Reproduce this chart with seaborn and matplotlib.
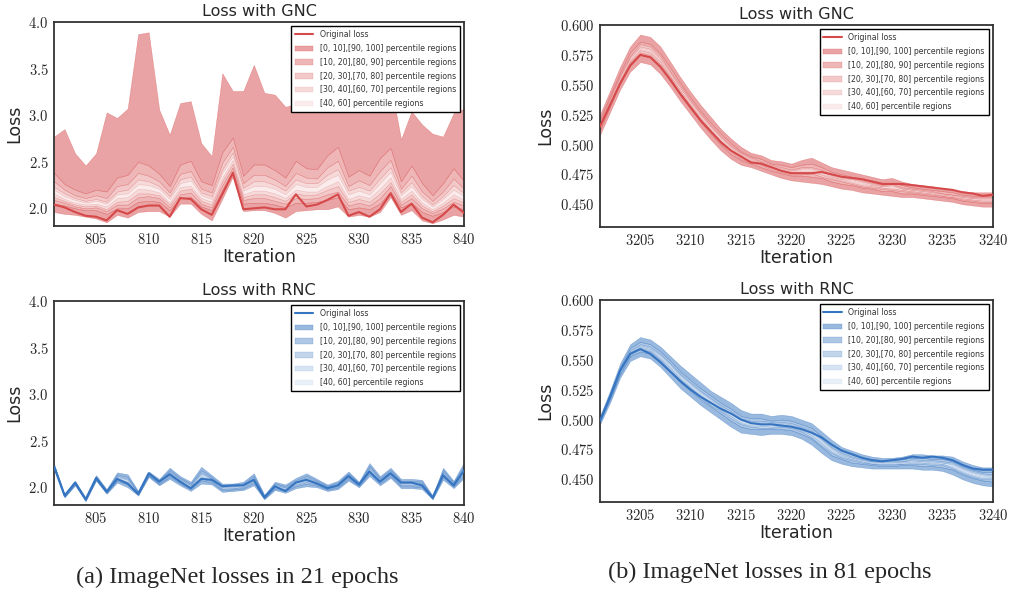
import numpy as np
import matplotlib
matplotlib.use("Agg")
import matplotlib.pyplot as plt
from matplotlib.ticker import FuncFormatter
import seaborn as sns

# ---------------- data ----------------
it_a = list(range(801, 841))
it_b = list(range(3201, 3241))

# (a) GNC, 21 epochs
gnc_a_loss = [2.04,2.01,1.96,1.92,1.91,1.87,1.98,1.94,2.01,2.03,2.03,1.91,2.11,2.10,1.99,1.93,2.15,2.38,1.99,2.00,2.01,1.99,1.99,2.15,2.02,2.04,2.09,2.15,1.92,1.96,1.91,1.99,2.16,1.96,2.05,1.90,1.85,1.93,2.04,1.95]
gnc_a_p0 = [1.96,1.94,1.93,1.91,1.89,1.85,1.93,1.90,1.96,1.97,1.97,1.91,2.05,2.05,1.94,1.87,2.10,2.34,1.97,1.98,1.98,1.95,1.90,1.97,1.98,1.99,1.99,2.02,1.91,1.93,1.91,1.96,2.12,1.93,1.98,1.87,1.84,1.88,1.93,1.91]
gnc_a_p10 = [2.05,2.03,2.00,1.98,1.98,1.94,2.00,2.00,2.07,2.08,2.07,1.98,2.11,2.12,2.02,1.98,2.20,2.40,2.05,2.06,2.06,2.04,2.01,2.06,2.06,2.07,2.09,2.12,1.99,2.01,1.99,2.05,2.18,2.01,2.06,1.96,1.92,1.96,2.02,1.99]
gnc_a_p20 = [2.09,2.06,2.02,2.00,2.01,1.97,2.04,2.04,2.12,2.13,2.11,2.01,2.15,2.17,2.05,2.01,2.25,2.44,2.09,2.11,2.11,2.08,2.05,2.11,2.10,2.11,2.15,2.18,2.03,2.06,2.03,2.11,2.24,2.04,2.11,2.00,1.95,2.00,2.07,2.03]
gnc_a_p30 = [2.12,2.08,2.04,2.02,2.03,1.99,2.07,2.08,2.16,2.16,2.14,2.04,2.19,2.21,2.08,2.04,2.29,2.48,2.12,2.15,2.15,2.12,2.08,2.16,2.14,2.15,2.20,2.24,2.07,2.10,2.07,2.16,2.28,2.07,2.15,2.03,1.97,2.03,2.11,2.06]
gnc_a_p40 = [2.16,2.10,2.06,2.04,2.05,2.02,2.11,2.12,2.21,2.20,2.17,2.06,2.23,2.24,2.11,2.07,2.33,2.52,2.15,2.19,2.19,2.16,2.11,2.20,2.18,2.18,2.24,2.29,2.10,2.14,2.11,2.21,2.33,2.10,2.19,2.06,1.99,2.06,2.15,2.09]
gnc_a_p60 = [2.20,2.13,2.09,2.06,2.08,2.05,2.15,2.16,2.26,2.25,2.21,2.10,2.27,2.30,2.14,2.10,2.38,2.56,2.19,2.24,2.24,2.21,2.15,2.26,2.23,2.23,2.31,2.36,2.15,2.19,2.15,2.27,2.39,2.14,2.24,2.10,2.02,2.10,2.20,2.13]
gnc_a_p70 = [2.23,2.16,2.11,2.08,2.10,2.07,2.18,2.20,2.31,2.29,2.24,2.13,2.31,2.34,2.17,2.13,2.42,2.60,2.22,2.29,2.29,2.25,2.19,2.31,2.27,2.27,2.36,2.42,2.19,2.23,2.19,2.32,2.44,2.17,2.28,2.13,2.04,2.13,2.25,2.16]
gnc_a_p80 = [2.29,2.20,2.14,2.11,2.14,2.11,2.24,2.26,2.38,2.35,2.29,2.17,2.37,2.40,2.21,2.17,2.49,2.66,2.27,2.36,2.36,2.31,2.24,2.38,2.33,2.32,2.44,2.51,2.24,2.30,2.25,2.40,2.52,2.21,2.35,2.18,2.08,2.18,2.32,2.21]
gnc_a_p90 = [2.38,2.26,2.20,2.16,2.20,2.18,2.33,2.36,2.50,2.46,2.37,2.24,2.47,2.51,2.29,2.25,2.60,2.76,2.35,2.47,2.47,2.41,2.33,2.51,2.43,2.42,2.57,2.66,2.34,2.41,2.35,2.54,2.65,2.29,2.46,2.27,2.14,2.27,2.43,2.29]
gnc_a_p100 = [2.77,2.85,2.59,2.46,2.59,3.03,2.97,3.07,3.87,3.89,3.06,2.79,3.13,3.15,2.70,2.56,3.45,3.26,3.26,3.54,3.24,3.22,3.09,3.12,3.20,3.15,3.25,3.30,3.15,3.10,3.18,3.12,3.35,2.74,3.04,2.90,2.80,2.77,3.02,3.07]

# (a) RNC, 21 epochs
rnc_a_loss = [2.22,1.91,2.05,1.87,2.10,1.95,2.09,2.04,1.93,2.15,2.06,2.14,2.06,1.99,2.09,2.08,2.01,2.02,2.02,2.08,1.89,2.01,1.96,2.05,2.08,2.04,1.99,2.02,2.12,2.03,2.17,2.06,2.15,2.05,2.05,2.02,1.89,2.13,2.02,2.18]
rnc_a_p0 = [2.20,1.89,2.02,1.85,2.07,1.93,2.05,2.00,1.91,2.11,2.02,2.09,2.02,1.96,2.04,2.03,1.95,1.96,1.97,2.02,1.87,1.97,1.94,1.99,2.01,2.00,1.96,1.98,2.07,2.00,2.12,2.02,2.10,1.99,1.99,1.98,1.87,2.08,1.99,2.10]
rnc_a_p10 = [2.210,1.898,2.030,1.858,2.082,1.940,2.072,2.028,1.920,2.122,2.034,2.114,2.040,1.980,2.076,2.050,1.968,1.976,1.988,2.046,1.880,1.988,1.958,2.012,2.038,2.018,1.974,1.998,2.090,2.012,2.148,2.040,2.122,2.010,2.010,2.000,1.878,2.106,2.006,2.134]
rnc_a_p20 = [2.216,1.903,2.036,1.863,2.089,1.946,2.085,2.045,1.926,2.129,2.042,2.128,2.052,1.992,2.098,2.062,1.979,1.986,1.999,2.062,1.886,1.999,1.969,2.025,2.055,2.029,1.982,2.009,2.102,2.019,2.165,2.052,2.135,2.022,2.022,2.012,1.883,2.122,2.016,2.154]
rnc_a_p30 = [2.220,1.906,2.040,1.866,2.094,1.950,2.094,2.056,1.930,2.134,2.048,2.138,2.060,2.000,2.112,2.070,1.986,1.992,2.006,2.072,1.890,2.006,1.976,2.034,2.066,2.036,1.988,2.016,2.110,2.024,2.176,2.060,2.144,2.030,2.030,2.020,1.886,2.132,2.022,2.168]
rnc_a_p40 = [2.223,1.908,2.043,1.868,2.098,1.953,2.101,2.064,1.933,2.138,2.052,2.145,2.066,2.006,2.123,2.076,1.991,1.997,2.011,2.080,1.893,2.011,1.981,2.041,2.074,2.041,1.992,2.021,2.116,2.028,2.184,2.066,2.151,2.036,2.036,2.026,1.888,2.140,2.027,2.178]
rnc_a_p60 = [2.227,1.912,2.047,1.872,2.102,1.957,2.109,2.076,1.937,2.142,2.058,2.155,2.074,2.014,2.137,2.084,1.999,2.003,2.019,2.090,1.897,2.019,1.989,2.049,2.086,2.049,1.998,2.029,2.124,2.032,2.196,2.074,2.159,2.044,2.044,2.034,1.892,2.150,2.033,2.192]
rnc_a_p70 = [2.230,1.914,2.050,1.874,2.106,1.960,2.116,2.084,1.940,2.146,2.062,2.162,2.080,2.020,2.148,2.090,2.004,2.008,2.024,2.098,1.900,2.024,1.994,2.056,2.094,2.054,2.002,2.034,2.130,2.036,2.204,2.080,2.166,2.050,2.050,2.040,1.894,2.158,2.038,2.202]
rnc_a_p80 = [2.234,1.917,2.054,1.877,2.111,1.964,2.125,2.095,1.944,2.151,2.068,2.172,2.088,2.028,2.162,2.098,2.011,2.014,2.031,2.108,1.904,2.031,2.001,2.065,2.105,2.061,2.008,2.041,2.138,2.041,2.215,2.088,2.175,2.058,2.058,2.048,1.897,2.168,2.044,2.216]
rnc_a_p90 = [2.240,1.922,2.060,1.882,2.118,1.970,2.138,2.112,1.950,2.158,2.076,2.186,2.100,2.040,2.184,2.110,2.022,2.024,2.042,2.124,1.910,2.042,2.012,2.078,2.122,2.072,2.016,2.052,2.150,2.048,2.232,2.100,2.188,2.070,2.070,2.060,1.902,2.184,2.054,2.236]
rnc_a_p100 = [2.25,1.93,2.07,1.89,2.13,1.98,2.16,2.14,1.96,2.17,2.09,2.21,2.12,2.06,2.22,2.13,2.04,2.04,2.06,2.15,1.92,2.06,2.03,2.10,2.15,2.09,2.03,2.07,2.17,2.06,2.26,2.12,2.21,2.09,2.09,2.08,1.91,2.21,2.07,2.27]

# (b) GNC, 81 epochs
gnc_b_loss = [0.515,0.533,0.551,0.566,0.575,0.573,0.565,0.554,0.542,0.531,0.520,0.511,0.502,0.495,0.490,0.485,0.484,0.481,0.478,0.476,0.476,0.476,0.477,0.475,0.473,0.472,0.471,0.469,0.467,0.467,0.467,0.466,0.465,0.464,0.463,0.462,0.460,0.459,0.457,0.458]
gnc_b_p0 = [0.508,0.527,0.546,0.561,0.569,0.567,0.559,0.548,0.536,0.525,0.514,0.504,0.495,0.488,0.483,0.481,0.478,0.475,0.472,0.470,0.469,0.468,0.467,0.465,0.463,0.462,0.460,0.459,0.458,0.457,0.456,0.456,0.455,0.454,0.453,0.452,0.450,0.449,0.448,0.448]
gnc_b_p10 = [0.512,0.532,0.551,0.566,0.575,0.573,0.565,0.553,0.541,0.530,0.519,0.509,0.500,0.492,0.487,0.484,0.481,0.478,0.476,0.474,0.474,0.473,0.472,0.469,0.467,0.466,0.464,0.463,0.461,0.461,0.459,0.459,0.458,0.457,0.456,0.455,0.453,0.452,0.451,0.451]
gnc_b_p20 = [0.514,0.533,0.553,0.569,0.577,0.575,0.567,0.556,0.543,0.532,0.521,0.511,0.501,0.494,0.488,0.485,0.483,0.479,0.477,0.475,0.475,0.476,0.473,0.471,0.469,0.467,0.465,0.464,0.463,0.462,0.461,0.460,0.459,0.458,0.457,0.456,0.454,0.453,0.452,0.452]
gnc_b_p30 = [0.515,0.535,0.554,0.570,0.579,0.577,0.569,0.557,0.545,0.533,0.522,0.512,0.503,0.495,0.489,0.486,0.484,0.480,0.478,0.476,0.477,0.477,0.475,0.472,0.470,0.468,0.466,0.465,0.464,0.463,0.462,0.461,0.460,0.459,0.457,0.456,0.455,0.454,0.453,0.453]
gnc_b_p40 = [0.516,0.536,0.555,0.571,0.580,0.578,0.570,0.558,0.545,0.534,0.523,0.513,0.504,0.496,0.490,0.487,0.484,0.481,0.479,0.477,0.478,0.478,0.476,0.473,0.471,0.469,0.467,0.466,0.464,0.464,0.462,0.461,0.460,0.459,0.458,0.457,0.455,0.454,0.454,0.454]
gnc_b_p60 = [0.517,0.537,0.556,0.572,0.581,0.579,0.571,0.559,0.547,0.535,0.524,0.514,0.505,0.497,0.491,0.487,0.485,0.481,0.479,0.477,0.479,0.479,0.477,0.473,0.471,0.470,0.468,0.466,0.465,0.465,0.463,0.462,0.461,0.460,0.458,0.457,0.456,0.455,0.454,0.454]
gnc_b_p70 = [0.518,0.538,0.557,0.573,0.582,0.580,0.572,0.560,0.547,0.536,0.525,0.515,0.506,0.498,0.492,0.488,0.485,0.482,0.480,0.478,0.480,0.480,0.478,0.474,0.472,0.471,0.469,0.467,0.465,0.466,0.463,0.462,0.461,0.460,0.459,0.458,0.456,0.455,0.455,0.455]
gnc_b_p80 = [0.519,0.539,0.558,0.574,0.584,0.582,0.574,0.561,0.549,0.537,0.526,0.516,0.507,0.499,0.493,0.489,0.486,0.483,0.481,0.479,0.481,0.481,0.479,0.475,0.473,0.472,0.470,0.468,0.466,0.467,0.464,0.463,0.462,0.461,0.459,0.458,0.457,0.456,0.456,0.456]
gnc_b_p90 = [0.521,0.541,0.560,0.577,0.586,0.584,0.576,0.564,0.551,0.539,0.528,0.518,0.509,0.501,0.494,0.490,0.488,0.484,0.483,0.481,0.483,0.484,0.481,0.477,0.475,0.473,0.471,0.470,0.468,0.468,0.466,0.464,0.463,0.462,0.461,0.460,0.458,0.457,0.457,0.457]
gnc_b_p100 = [0.525,0.545,0.565,0.582,0.592,0.590,0.582,0.569,0.556,0.544,0.533,0.523,0.513,0.505,0.498,0.493,0.491,0.487,0.486,0.484,0.487,0.489,0.485,0.481,0.479,0.477,0.475,0.473,0.471,0.472,0.469,0.467,0.466,0.465,0.463,0.462,0.461,0.460,0.460,0.460]

# (b) RNC, 81 epochs
rnc_b_loss = [0.499,0.519,0.541,0.555,0.559,0.555,0.548,0.540,0.532,0.525,0.519,0.514,0.509,0.505,0.500,0.497,0.496,0.496,0.495,0.494,0.492,0.489,0.485,0.479,0.474,0.471,0.468,0.466,0.465,0.466,0.467,0.469,0.468,0.469,0.468,0.466,0.462,0.459,0.458,0.458]
rnc_b_p0 = [0.496,0.514,0.535,0.549,0.553,0.551,0.544,0.535,0.526,0.519,0.512,0.506,0.500,0.494,0.489,0.488,0.487,0.488,0.488,0.487,0.484,0.479,0.472,0.466,0.463,0.461,0.460,0.459,0.459,0.459,0.459,0.459,0.458,0.458,0.457,0.454,0.450,0.447,0.445,0.444]
rnc_b_p10 = [0.498,0.517,0.538,0.553,0.557,0.555,0.548,0.540,0.531,0.524,0.517,0.511,0.505,0.499,0.494,0.492,0.492,0.492,0.492,0.491,0.488,0.484,0.477,0.470,0.467,0.464,0.463,0.462,0.461,0.461,0.462,0.462,0.461,0.461,0.460,0.458,0.454,0.451,0.449,0.448]
rnc_b_p20 = [0.499,0.518,0.539,0.554,0.559,0.557,0.550,0.541,0.533,0.526,0.519,0.512,0.507,0.501,0.496,0.494,0.493,0.493,0.494,0.493,0.490,0.485,0.478,0.472,0.468,0.466,0.464,0.463,0.462,0.462,0.463,0.463,0.463,0.462,0.462,0.459,0.455,0.452,0.450,0.450]
rnc_b_p30 = [0.499,0.518,0.540,0.555,0.560,0.558,0.551,0.543,0.534,0.527,0.520,0.514,0.508,0.503,0.497,0.495,0.495,0.494,0.495,0.494,0.491,0.487,0.480,0.473,0.469,0.467,0.465,0.463,0.463,0.463,0.463,0.464,0.464,0.463,0.463,0.460,0.456,0.453,0.451,0.451]
rnc_b_p40 = [0.499,0.519,0.541,0.556,0.561,0.559,0.552,0.544,0.535,0.528,0.521,0.515,0.509,0.503,0.498,0.496,0.496,0.495,0.496,0.495,0.492,0.488,0.481,0.474,0.470,0.467,0.465,0.464,0.463,0.463,0.464,0.465,0.464,0.464,0.463,0.461,0.457,0.454,0.452,0.452]
rnc_b_p60 = [0.500,0.519,0.541,0.556,0.561,0.559,0.553,0.545,0.536,0.529,0.522,0.516,0.510,0.505,0.499,0.497,0.497,0.496,0.496,0.495,0.492,0.489,0.482,0.475,0.470,0.468,0.466,0.464,0.464,0.464,0.464,0.465,0.465,0.464,0.464,0.462,0.458,0.455,0.453,0.452]
rnc_b_p70 = [0.500,0.520,0.542,0.557,0.562,0.560,0.554,0.546,0.537,0.530,0.523,0.517,0.511,0.505,0.500,0.498,0.498,0.497,0.497,0.496,0.493,0.490,0.483,0.476,0.471,0.468,0.466,0.465,0.464,0.464,0.465,0.466,0.465,0.465,0.464,0.463,0.459,0.456,0.454,0.453]
rnc_b_p80 = [0.500,0.520,0.543,0.558,0.563,0.561,0.555,0.547,0.538,0.531,0.524,0.518,0.512,0.507,0.501,0.499,0.499,0.498,0.498,0.497,0.494,0.491,0.484,0.477,0.472,0.469,0.467,0.465,0.465,0.465,0.465,0.467,0.466,0.466,0.465,0.464,0.460,0.457,0.455,0.454]
rnc_b_p90 = [0.501,0.522,0.544,0.560,0.565,0.563,0.557,0.549,0.540,0.533,0.526,0.520,0.514,0.509,0.503,0.501,0.501,0.499,0.500,0.499,0.496,0.493,0.486,0.479,0.474,0.471,0.468,0.467,0.466,0.466,0.467,0.468,0.468,0.467,0.467,0.465,0.461,0.458,0.456,0.456]
rnc_b_p100 = [0.503,0.524,0.547,0.563,0.569,0.567,0.561,0.553,0.545,0.538,0.531,0.524,0.519,0.514,0.508,0.505,0.505,0.503,0.504,0.503,0.500,0.497,0.490,0.483,0.477,0.474,0.471,0.469,0.468,0.468,0.469,0.471,0.471,0.470,0.470,0.469,0.465,0.462,0.460,0.460]

band_labels = ["[0, 10],[90, 100] percentile regions",
               "[10, 20],[80, 90] percentile regions",
               "[20, 30],[70, 80] percentile regions",
               "[30, 40],[60, 70] percentile regions",
               "[40, 60] percentile regions"]
xticks_a = [805, 810, 815, 820, 825, 830, 835, 840]
xticks_b = [3205, 3210, 3215, 3220, 3225, 3230, 3235, 3240]
yticks_a = [2.0, 2.5, 3.0, 3.5, 4.0]
yticks_b = [0.450, 0.475, 0.500, 0.525, 0.550, 0.575, 0.600]

RED = "#d6494a"
BLUE = "#3574c0"

# ---------------- style ----------------
sns.set_style("white")
plt.rcParams["mathtext.fontset"] = "cm"
plt.rcParams["font.family"] = ["DejaVu Sans"]
plt.rcParams["axes.edgecolor"] = "#333333"
plt.rcParams["axes.linewidth"] = 1.3

fig = plt.figure(figsize=(10.1, 5.92), dpi=100)


def panel(rect, x, loss, pc, color, title, xlim, ylim, xticks, yticks, ydec):
    ax = fig.add_axes(rect)
    p0, p10, p20, p30, p40, p60, p70, p80, p90, p100 = pc
    pairs = [[(p0, p10), (p90, p100)],
             [(p10, p20), (p80, p90)],
             [(p20, p30), (p70, p80)],
             [(p30, p40), (p60, p70)],
             [(p40, p60)]]
    alphas = [0.5, 0.4, 0.3, 0.2, 0.1]
    sns.lineplot(x=x, y=loss, ax=ax, color=color, lw=1.5, label="Original loss", zorder=5)
    for grp, a, lab in zip(pairs, alphas, band_labels):
        for k, (lo, hi) in enumerate(grp):
            ax.fill_between(x, lo, hi, color=color, alpha=a, lw=0.35,
                            label=lab if k == 0 else None)
    ax.set_xlim(*xlim)
    ax.set_ylim(*ylim)
    ax.set_xticks(xticks)
    ax.set_yticks(yticks)
    ax.xaxis.set_major_formatter(FuncFormatter(lambda v, p: r"$%d$" % round(v)))
    ax.yaxis.set_major_formatter(FuncFormatter(lambda v, p: r"$%.*f$" % (ydec, v)))
    ax.tick_params(axis="both", labelsize=10.5, pad=4, length=0)
    ax.set_title(title, fontsize=11.5, pad=4)
    ax.set_xlabel("Iteration", fontsize=12.5, labelpad=1)
    ax.set_ylabel("Loss", fontsize=12.5, labelpad=4)
    leg = ax.legend(loc="upper right", fontsize=5.6, frameon=True, fancybox=False,
                    framealpha=1, edgecolor="black", borderaxespad=0.55,
                    handlelength=2.4, labelspacing=0.62, borderpad=0.5)
    leg.get_frame().set_linewidth(1.0)
    for t in leg.get_texts():
        t.set_color("#333333")
    return ax


panel([0.0535, 0.6182, 0.406, 0.3446], it_a, gnc_a_loss,
      [gnc_a_p0, gnc_a_p10, gnc_a_p20, gnc_a_p30, gnc_a_p40, gnc_a_p60, gnc_a_p70, gnc_a_p80, gnc_a_p90, gnc_a_p100],
      RED, "Loss with GNC", (801, 840), (1.81, 4.0), xticks_a, yticks_a, 1)
panel([0.0535, 0.147, 0.406, 0.3446], it_a, rnc_a_loss,
      [rnc_a_p0, rnc_a_p10, rnc_a_p20, rnc_a_p30, rnc_a_p40, rnc_a_p60, rnc_a_p70, rnc_a_p80, rnc_a_p90, rnc_a_p100],
      BLUE, "Loss with RNC", (801, 840), (1.81, 4.0), xticks_a, yticks_a, 1)
panel([0.594, 0.6166, 0.389, 0.3412], it_b, gnc_b_loss,
      [gnc_b_p0, gnc_b_p10, gnc_b_p20, gnc_b_p30, gnc_b_p40, gnc_b_p60, gnc_b_p70, gnc_b_p80, gnc_b_p90, gnc_b_p100],
      RED, "Loss with GNC", (3201, 3240), (0.431, 0.600), xticks_b, yticks_b, 3)
panel([0.594, 0.152, 0.389, 0.3412], it_b, rnc_b_loss,
      [rnc_b_p0, rnc_b_p10, rnc_b_p20, rnc_b_p30, rnc_b_p40, rnc_b_p60, rnc_b_p70, rnc_b_p80, rnc_b_p90, rnc_b_p100],
      BLUE, "Loss with RNC", (3201, 3240), (0.431, 0.600), xticks_b, yticks_b, 3)

fig.text(237 / 1010, 1 - 577 / 592, "(a) ImageNet losses in 21 epochs", ha="center", va="center",
         fontsize=17.5, family=["Liberation Serif"])
fig.text(770 / 1010, 1 - 572 / 592, "(b) ImageNet losses in 81 epochs", ha="center", va="center",
         fontsize=17.5, family=["Liberation Serif"])

fig.savefig("out.png", dpi=100)
